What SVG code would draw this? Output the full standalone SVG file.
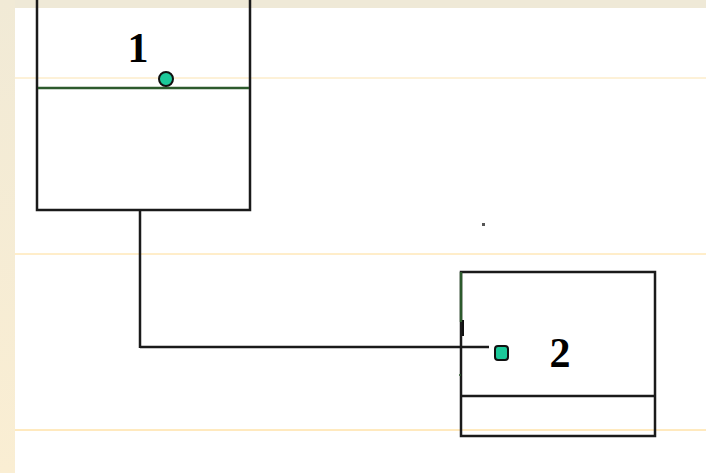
<svg xmlns="http://www.w3.org/2000/svg" width="706" height="473" viewBox="0 0 706 473">
  <defs>
    <linearGradient id="sideBand" x1="0" y1="0" x2="0" y2="1">
      <stop offset="0" stop-color="#F1EAD6"/>
      <stop offset="1" stop-color="#FAEED3"/>
    </linearGradient>
    <style>
      .rule { stroke-width: 1; }
      .edge { fill: none; stroke: #1A1A1A; stroke-width: 2.5; }
      .green { fill: none; stroke: #2C5A2C; stroke-width: 2.5; }
      .dot { fill: #1CC99A; stroke: #111; stroke-width: 2; }
      .label { font-family: "Liberation Serif", "Times New Roman", serif; font-weight: bold; font-size: 42px; fill: #000; }
    </style>
  </defs>

  <!-- slide background -->
  <rect x="0" y="0" width="706" height="473" fill="#FFFFFF"/>
  <rect x="0" y="0" width="706" height="8" fill="#EFE9D7"/>
  <rect x="0" y="0" width="15" height="473" fill="url(#sideBand)"/>

  <!-- ruled lines -->
  <line class="rule" x1="15" y1="78" x2="706" y2="78" stroke="#FBE3B0"/>
  <line class="rule" x1="15" y1="254" x2="706" y2="254" stroke="#FFDC95"/>
  <line class="rule" x1="15" y1="430" x2="706" y2="430" stroke="#FFD47E"/>

  <!-- stray mark -->
  <rect x="482" y="223" width="3" height="3" fill="#555"/>

  <!-- connectors -->
  <g id="connectors">
    <polyline class="edge" points="140,210 140,348"/>
    <polyline class="edge" points="140,347 489,347"/>
  </g>

  <!-- node 1 -->
  <g id="node1">
    <polyline class="edge" points="37,0 37,210 250,210 250,0"/>
    <line class="green" x1="38" y1="88" x2="249" y2="88"/>
    <circle class="dot" cx="166" cy="79" r="7"/>
    <text class="label" x="138" y="62" text-anchor="middle">1</text>
  </g>

  <!-- node 2 -->
  <g id="node2">
    <rect class="edge" x="461" y="272" width="194" height="164"/>
    <line class="edge" x1="461" y1="396" x2="655" y2="396"/>
    <line class="green" x1="461" y1="272" x2="461" y2="322"/>
    <line x1="463" y1="320" x2="463" y2="336" stroke="#111" stroke-width="2"/>
    <line x1="459" y1="375" x2="461" y2="375" stroke="#2C5A2C" stroke-width="1.5"/>
    <rect class="dot" x="495" y="346" width="13" height="14" rx="3"/>
    <text class="label" x="560" y="367" text-anchor="middle">2</text>
  </g>
</svg>
